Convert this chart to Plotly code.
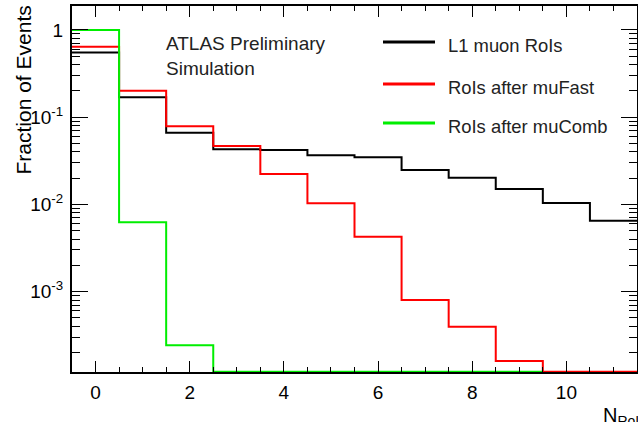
import numpy as np
import plotly.graph_objects as go

# ---- data ----
n_roi = list(range(12))  # bin centres 0..11
l1_muon = [0.55, 0.169, 0.0665, 0.0430, 0.0420, 0.0366, 0.0347, 0.0248, 0.0202, 0.0150, 0.0104, 0.0065]
after_mufast = [0.644, 0.201, 0.0787, 0.0468, 0.0223, 0.0103, 0.00426, 0.000803, 0.000396, 0.000160, 0.0, 0.0]
after_mucomb = [1.0, 0.00623, 0.000242, 0.0, 0.0, 0.0, 0.0, 0.0, 0.0, 0.0]
series_names = ["L1 muon RoIs", "RoIs after muFast", "RoIs after muComb"]
series_colors = ["#000000", "#ff0000", "#00ee00"]
ytick_vals = [1, 0.1, 0.01, 0.001]
ytick_text = ["1", "10<sup>-1</sup>", "10<sup>-2</sup>", "10<sup>-3</sup>"]

W, H = 638, 422
L, R, T, B = 72, 1, 6, 50
PW, PH = W - L - R, H - T - B
XR = [-0.5, 11.5]
YR = [-3.922, 0.275]
FONT = "Liberation Sans, Arial, sans-serif"


def px2x(px):
    return (px - L) / PW


def px2y(py):
    return (H - B - py) / PH


def step_xy(vals):
    centres = np.array(n_roi[:len(vals)], dtype=float)
    edges = np.append(centres - 0.5, centres[-1] + 0.5)
    v = np.maximum(np.array(vals, dtype=float), 10 ** (YR[0] + 0.004))
    return edges, np.append(v, v[-1])


fig = go.Figure()
for name, vals, col in zip(series_names, [l1_muon, after_mufast, after_mucomb], series_colors):
    x, y = step_xy(vals)
    fig.add_trace(go.Scatter(x=x, y=y, mode="lines", line=dict(color=col, width=2, shape="hv"),
                             name=name, showlegend=False, hoverinfo="skip"))

annotations = [
    dict(text="Fraction of Events", textangle=-90, x=px2x(23), y=px2y(4), xref="paper", yref="paper",
         xanchor="center", yanchor="top", showarrow=False, font=dict(size=21, family=FONT, color="#000")),
    dict(text="N<sub>RoI</sub>", x=px2x(601), y=px2y(402), xref="paper", yref="paper",
         xanchor="left", yanchor="top", showarrow=False, font=dict(size=20, family=FONT, color="#000")),
    dict(text="ATLAS Preliminary<br>Simulation", x=px2x(164), y=px2y(31), xref="paper", yref="paper",
         xanchor="left", yanchor="top", align="left", showarrow=False,
         font=dict(size=19, family=FONT, color="#222")),
]
shapes = []
leg_y = [42, 84, 123]
for name, col, ly in zip(series_names, series_colors, leg_y):
    shapes.append(dict(type="line", xref="paper", yref="paper", x0=px2x(383), x1=px2x(435),
                       y0=px2y(ly), y1=px2y(ly), line=dict(color=col, width=3)))
    annotations.append(dict(text=name, x=px2x(446), y=px2y(ly + 3), xref="paper", yref="paper",
                            xanchor="left", yanchor="middle", showarrow=False,
                            font=dict(size=18.4, family=FONT, color="#222")))

minor_vals = [k * 10.0 ** e for e in range(-4, 1) for k in range(2, 10)]

fig.update_layout(
    template="none",
    width=W, height=H, margin=dict(l=L, r=R, t=T, b=B, autoexpand=False),
    paper_bgcolor="white", plot_bgcolor="white",
    font=dict(family=FONT, color="#000"),
    annotations=annotations, shapes=shapes, showlegend=False,
    xaxis=dict(range=XR, showgrid=False, zeroline=False, showline=True, linecolor="black", linewidth=2,
               automargin=False, mirror="ticks", ticks="inside", ticklen=11, tickwidth=1, tickcolor="black",
               tick0=0, dtick=2, tickfont=dict(size=19, family=FONT), ticklabelstandoff=2,
               minor=dict(ticks="inside", ticklen=5, dtick=0.5, tickcolor="black", showgrid=False)),
    yaxis=dict(type="log", range=YR, showgrid=False, zeroline=False, showline=True, linecolor="black",
               automargin=False, linewidth=2, mirror="ticks", ticks="inside", ticklen=16, tickwidth=1,
               tickcolor="black", tickmode="array", tickvals=ytick_vals, ticktext=ytick_text,
               ticklabelstandoff=3, tickfont=dict(size=19, family=FONT),
               minor=dict(ticks="inside", ticklen=8, tickmode="array", tickvals=minor_vals,
                          tickcolor="black", showgrid=False)),
)

fig.write_html("out.html", config={"displayModeBar": False},
               post_script="document.body.style.margin='0px';")
